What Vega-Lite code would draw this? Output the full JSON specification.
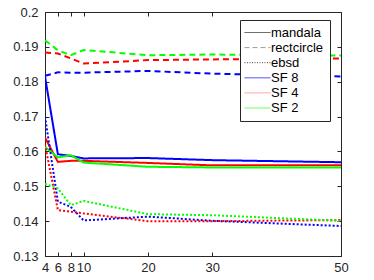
{
  "$schema": "https://vega.github.io/schema/vega-lite/v6.json",
  "width": 296,
  "height": 244,
  "autosize": "none",
  "padding": {"left": 45, "top": 12, "right": 33, "bottom": 24},
  "config": {
    "font": "Liberation Sans",
    "view": {"stroke": "#262626", "strokeWidth": 1},
    "axis": {"labelFont": "Liberation Sans", "labelFontSize": 13, "labelColor": "#262626", "grid": false, "domain": false, "tickColor": "#262626", "tickSize": -4, "title": null}
  },
  "datasets": {
    "lines": [
      {"x": 4, "v": 0.1815, "type": "mandala", "sf": "SF 8"},
      {"x": 6, "v": 0.1592, "type": "mandala", "sf": "SF 8"},
      {"x": 8, "v": 0.1587, "type": "mandala", "sf": "SF 8"},
      {"x": 10, "v": 0.1580, "type": "mandala", "sf": "SF 8"},
      {"x": 20, "v": 0.1581, "type": "mandala", "sf": "SF 8"},
      {"x": 30, "v": 0.1575, "type": "mandala", "sf": "SF 8"},
      {"x": 50, "v": 0.1569, "type": "mandala", "sf": "SF 8"},
      {"x": 4, "v": 0.1640, "type": "mandala", "sf": "SF 4"},
      {"x": 6, "v": 0.1570, "type": "mandala", "sf": "SF 4"},
      {"x": 8, "v": 0.1573, "type": "mandala", "sf": "SF 4"},
      {"x": 10, "v": 0.1573, "type": "mandala", "sf": "SF 4"},
      {"x": 20, "v": 0.1567, "type": "mandala", "sf": "SF 4"},
      {"x": 30, "v": 0.1560, "type": "mandala", "sf": "SF 4"},
      {"x": 50, "v": 0.1560, "type": "mandala", "sf": "SF 4"},
      {"x": 4, "v": 0.1613, "type": "mandala", "sf": "SF 2"},
      {"x": 6, "v": 0.1583, "type": "mandala", "sf": "SF 2"},
      {"x": 8, "v": 0.1589, "type": "mandala", "sf": "SF 2"},
      {"x": 10, "v": 0.1568, "type": "mandala", "sf": "SF 2"},
      {"x": 20, "v": 0.1556, "type": "mandala", "sf": "SF 2"},
      {"x": 30, "v": 0.1554, "type": "mandala", "sf": "SF 2"},
      {"x": 50, "v": 0.1554, "type": "mandala", "sf": "SF 2"},
      {"x": 4, "v": 0.1817, "type": "rectcircle", "sf": "SF 8"},
      {"x": 6, "v": 0.1827, "type": "rectcircle", "sf": "SF 8"},
      {"x": 8, "v": 0.1826, "type": "rectcircle", "sf": "SF 8"},
      {"x": 10, "v": 0.1826, "type": "rectcircle", "sf": "SF 8"},
      {"x": 20, "v": 0.1831, "type": "rectcircle", "sf": "SF 8"},
      {"x": 30, "v": 0.1823, "type": "rectcircle", "sf": "SF 8"},
      {"x": 50, "v": 0.1815, "type": "rectcircle", "sf": "SF 8"},
      {"x": 4, "v": 0.1884, "type": "rectcircle", "sf": "SF 4"},
      {"x": 6, "v": 0.1881, "type": "rectcircle", "sf": "SF 4"},
      {"x": 8, "v": 0.1867, "type": "rectcircle", "sf": "SF 4"},
      {"x": 10, "v": 0.1852, "type": "rectcircle", "sf": "SF 4"},
      {"x": 20, "v": 0.1862, "type": "rectcircle", "sf": "SF 4"},
      {"x": 30, "v": 0.1864, "type": "rectcircle", "sf": "SF 4"},
      {"x": 50, "v": 0.1867, "type": "rectcircle", "sf": "SF 4"},
      {"x": 4, "v": 0.1919, "type": "rectcircle", "sf": "SF 2"},
      {"x": 6, "v": 0.1890, "type": "rectcircle", "sf": "SF 2"},
      {"x": 8, "v": 0.1876, "type": "rectcircle", "sf": "SF 2"},
      {"x": 10, "v": 0.1891, "type": "rectcircle", "sf": "SF 2"},
      {"x": 20, "v": 0.1876, "type": "rectcircle", "sf": "SF 2"},
      {"x": 30, "v": 0.1878, "type": "rectcircle", "sf": "SF 2"},
      {"x": 50, "v": 0.1875, "type": "rectcircle", "sf": "SF 2"},
      {"x": 4, "v": 0.1700, "type": "ebsd", "sf": "SF 8"},
      {"x": 6, "v": 0.1456, "type": "ebsd", "sf": "SF 8"},
      {"x": 8, "v": 0.1441, "type": "ebsd", "sf": "SF 8"},
      {"x": 10, "v": 0.1402, "type": "ebsd", "sf": "SF 8"},
      {"x": 20, "v": 0.1413, "type": "ebsd", "sf": "SF 8"},
      {"x": 30, "v": 0.1401, "type": "ebsd", "sf": "SF 8"},
      {"x": 50, "v": 0.1386, "type": "ebsd", "sf": "SF 8"},
      {"x": 4, "v": 0.1620, "type": "ebsd", "sf": "SF 4"},
      {"x": 6, "v": 0.1432, "type": "ebsd", "sf": "SF 4"},
      {"x": 8, "v": 0.1427, "type": "ebsd", "sf": "SF 4"},
      {"x": 10, "v": 0.1422, "type": "ebsd", "sf": "SF 4"},
      {"x": 20, "v": 0.1400, "type": "ebsd", "sf": "SF 4"},
      {"x": 30, "v": 0.1400, "type": "ebsd", "sf": "SF 4"},
      {"x": 50, "v": 0.1403, "type": "ebsd", "sf": "SF 4"},
      {"x": 4, "v": 0.1507, "type": "ebsd", "sf": "SF 2"},
      {"x": 6, "v": 0.1494, "type": "ebsd", "sf": "SF 2"},
      {"x": 8, "v": 0.1446, "type": "ebsd", "sf": "SF 2"},
      {"x": 10, "v": 0.1458, "type": "ebsd", "sf": "SF 2"},
      {"x": 20, "v": 0.1420, "type": "ebsd", "sf": "SF 2"},
      {"x": 30, "v": 0.1417, "type": "ebsd", "sf": "SF 2"},
      {"x": 50, "v": 0.1401, "type": "ebsd", "sf": "SF 2"}
    ],
    "legend": [
      {"leg": "mandala"}, {"leg": "rectcircle"}, {"leg": "ebsd"},
      {"leg": "SF 8"}, {"leg": "SF 4"}, {"leg": "SF 2"}
    ]
  },
  "layer": [
    {
      "data": {"name": "lines"},
      "mark": {"type": "line", "strokeWidth": 2, "clip": true},
      "encoding": {
        "x": {"field": "x", "type": "quantitative", "scale": {"domain": [4, 50], "nice": false, "zero": false},
              "axis": {"values": [4, 6, 8, 10, 20, 30, 50], "labelOverlap": false, "labelPadding": 9, "labelFlush": false}},
        "y": {"field": "v", "type": "quantitative", "scale": {"domain": [0.13, 0.2], "nice": false, "zero": false},
              "axis": {"values": [0.13, 0.14, 0.15, 0.16, 0.17, 0.18, 0.19, 0.2], "format": "~g", "labelPadding": 11, "labelFlush": false}},
        "color": {"field": "sf", "type": "nominal", "scale": {"domain": ["SF 8", "SF 4", "SF 2"], "range": ["#0000ff", "#ff0000", "#00ff00"]}, "legend": null},
        "strokeDash": {"field": "type", "type": "nominal", "scale": {"domain": ["mandala", "rectcircle", "ebsd"], "range": [[1, 0], [6, 4], [2, 2]]}, "legend": null},
        "detail": {"field": "sf"}
      }
    },
    {
      "data": {"name": "legend"},
      "mark": {"type": "line", "opacity": 0},
      "encoding": {
        "x": {"datum": 4, "type": "quantitative", "axis": {"orient": "top", "labels": false, "values": [4, 6, 8, 10, 20, 30, 50]}},
        "y": {"datum": 0.15, "type": "quantitative", "axis": {"orient": "right", "labels": false, "values": [0.13, 0.14, 0.15, 0.16, 0.17, 0.18, 0.19, 0.2]}},
        "color": {"field": "leg", "type": "nominal",
                  "scale": {"domain": ["mandala", "rectcircle", "ebsd", "SF 8", "SF 4", "SF 2"], "range": ["#404040", "#9a9a9a", "#404040", "#3a3aff", "#ff9a9a", "#5aff5a"]},
                  "legend": {"title": null, "orient": "none", "legendX": 195, "legendY": 8, "symbolType": "M-1.6,0H3.6", "symbolSize": 100, "symbolStrokeWidth": 1, "symbolOpacity": 1,
                             "labelFontSize": 13, "labelColor": "#000000", "labelFont": "Liberation Sans", "rowPadding": 1.1, "labelOffset": 12, "padding": 6,
                             "strokeColor": "#262626", "fillColor": "#ffffff", "cornerRadius": 0}},
        "strokeDash": {"field": "leg", "type": "nominal",
                       "scale": {"domain": ["mandala", "rectcircle", "ebsd", "SF 8", "SF 4", "SF 2"], "range": [[1, 0], [5, 3], [1, 1.5], [1, 0], [1, 0], [1, 0]]}}
      }
    }
  ],
  "resolve": {
    "scale": {"color": "independent", "strokeDash": "independent"},
    "axis": {"x": "independent", "y": "independent"}
  }
}
